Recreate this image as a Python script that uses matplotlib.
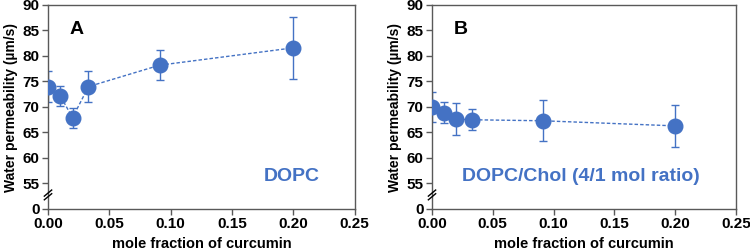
import matplotlib
matplotlib.use('Agg')
import matplotlib.pyplot as plt

plt.rcParams['font.family'] = ['Liberation Sans', 'DejaVu Sans']
plt.rcParams['font.weight'] = 'bold'

BLUE = '#4472C4'
SPINE = '#595959'

# mole fraction of curcumin
x_frac = [0.0, 0.01, 0.02, 0.033, 0.091, 0.2]

# panel A: DOPC
perm_a = [74.0, 72.2, 67.9, 74.0, 78.2, 81.6]
err_a = [3.0, 2.0, 2.0, 3.0, 3.0, 6.1]

# panel B: DOPC/Chol (4/1)
perm_b = [70.0, 68.9, 67.6, 67.5, 67.3, 66.3]
err_b = [3.0, 2.0, 3.1, 2.1, 4.0, 4.1]

y_ticks = [50, 55, 60, 65, 70, 75, 80, 85, 90]
y_labels = ['0', '55', '60', '65', '70', '75', '80', '85', '90']
x_ticks = [0.0, 0.05, 0.10, 0.15, 0.20, 0.25]

panels = [
    ([0.064, 0.164, 0.409, 0.816], perm_a, err_a, 'A', 'DOPC', 0.795),
    ([0.576, 0.164, 0.405, 0.816], perm_b, err_b, 'B', 'DOPC/Chol (4/1 mol ratio)', 0.49),
]

fig = plt.figure(figsize=(7.5, 2.5), dpi=100)

for rect, perm, err, letter, label, lx in panels:
    ax = fig.add_axes(rect)
    ax.errorbar(x_frac, perm, yerr=err, fmt='none', ecolor=BLUE,
                elinewidth=1, capsize=3, capthick=1, zorder=2)
    ax.plot(x_frac, perm, linestyle=(0, (2.5, 1.5)), color=BLUE,
            linewidth=1, zorder=3)
    ax.plot(x_frac, perm, 'o', color=BLUE, markersize=10.5, zorder=4)

    ax.set_xlim(0, 0.25)
    ax.set_ylim(50, 90)
    ax.set_xticks(x_ticks)
    ax.set_xticklabels([f'{v:.2f}' for v in x_ticks])
    ax.set_yticks(y_ticks)
    ax.set_yticklabels(y_labels)
    ax.tick_params(labelsize=11, length=4, width=1, color=SPINE, pad=2)
    for s in ax.spines.values():
        s.set_color(SPINE)
        s.set_linewidth(1)

    ax.set_xlabel('mole fraction of curcumin', fontsize=10.5, fontweight='bold', labelpad=4)
    ax.set_ylabel('Water permeability (µm/s)', fontsize=10, fontweight='bold', labelpad=3)

    ax.text(0.07, 0.88, letter, transform=ax.transAxes, fontsize=14,
            fontweight='bold', ha='left', va='center')
    ax.text(lx, 0.16, label, transform=ax.transAxes, fontsize=14,
            fontweight='bold', color=BLUE, ha='center', va='center')

    # axis break marks
    for dy in (0.0, 0.018):
        ax.plot([-0.012, 0.012], [0.045 + dy, 0.075 + dy], transform=ax.transAxes,
                color='black', linewidth=1, clip_on=False, zorder=5)

fig.savefig('out.png', dpi=100, facecolor='white')
